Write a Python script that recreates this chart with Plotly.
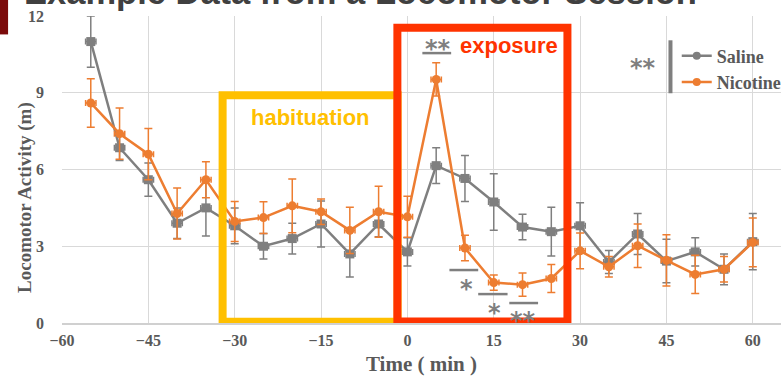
import plotly.graph_objects as go

# ---------------- data ----------------
time_min = [-55, -50, -45, -40, -35, -30, -25, -20, -15, -10, -5, 0,
            5, 10, 15, 20, 25, 30, 35, 40, 45, 50, 55, 60]
saline = [11.0, 6.85, 5.6, 3.9, 4.5, 3.8, 3.0, 3.3, 3.87, 2.7, 3.87, 2.78,
          6.15, 5.65, 4.73, 3.75, 3.57, 3.8, 2.38, 3.48, 2.42, 2.78, 2.1, 3.18]
saline_err = [1.0, 0.5, 0.65, 0.6, 1.1, 0.7, 0.5, 0.6, 0.9, 0.9, 0.5, 0.55,
              0.7, 0.9, 1.1, 0.5, 0.95, 0.9, 0.45, 0.8, 0.85, 0.55, 0.6, 1.1]
nicotine = [8.6, 7.4, 6.6, 4.28, 5.6, 3.97, 4.12, 4.58, 4.35, 3.62, 4.35, 4.15,
            9.52, 2.93, 1.58, 1.5, 1.74, 2.82, 2.2, 3.02, 2.45, 1.9, 2.1, 3.15]
nicotine_err = [0.95, 1.0, 1.0, 1.0, 0.7, 0.78, 0.62, 1.05, 0.5, 0.9, 1.0, 0.8,
                0.65, 0.5, 0.3, 0.45, 0.55, 0.7, 0.4, 0.85, 1.0, 0.75, 0.5, 0.95]
x_ticks = [-60, -45, -30, -15, 0, 15, 30, 45, 60]
y_ticks = [0, 3, 6, 9, 12]

GRAY = "#7F7F7F"
ORANGE = "#ED7D31"
YELLOW = "#FFC000"
RED = "#FF3300"
TXT = "#595959"
SERIF = "Liberation Serif"
STAR_FONT = dict(family="DejaVu Sans", size=24, color=GRAY, weight="bold")

fig = go.Figure()

def add_series(y, err, color, symbol, name):
    fig.add_trace(go.Scatter(
        x=time_min, y=y, mode="lines+markers", name=name, showlegend=False,
        line=dict(color=color, width=2.5),
        marker=dict(color=color, size=9, symbol=symbol),
        error_y=dict(type="data", array=err, visible=True, color=color,
                     thickness=1.5, width=4),
        error_x=dict(type="constant", value=0.9, visible=True, color=color,
                     thickness=1.5, width=3),
    ))
    # legend-only entry (circle marker as in the original legend)
    fig.add_trace(go.Scatter(
        x=[None], y=[None], mode="lines+markers", name=name,
        line=dict(color=color, width=2.5),
        marker=dict(color=color, size=8, symbol="circle"),
    ))

add_series(saline, saline_err, GRAY, "square", "Saline")
add_series(nicotine, nicotine_err, ORANGE, "circle", "Nicotine")

# ---------------- boxes ----------------
shapes = [
    dict(type="rect", xref="x", yref="y", x0=-32.1, x1=-1.7, y0=0.05, y1=8.9,
         line=dict(color=YELLOW, width=8), layer="above"),
    dict(type="rect", xref="x", yref="y", x0=-1.74, x1=27.8, y0=0.06, y1=11.54,
         line=dict(color=RED, width=8), layer="above"),
    # significance bars
    dict(type="line", xref="x", yref="y", x0=2.6, x1=7.6, y0=10.55, y1=10.55,
         line=dict(color=GRAY, width=2.5)),
    dict(type="line", xref="x", yref="y", x0=7.3, x1=12.3, y0=2.07, y1=2.07,
         line=dict(color=GRAY, width=2.5)),
    dict(type="line", xref="x", yref="y", x0=12.3, x1=17.4, y0=1.13, y1=1.13,
         line=dict(color=GRAY, width=2.5)),
    dict(type="line", xref="x", yref="y", x0=17.7, x1=22.7, y0=0.78, y1=0.78,
         line=dict(color=GRAY, width=2.5)),
    dict(type="line", xref="x", yref="y", x0=45.7, x1=45.7, y0=8.98, y1=11.05,
         line=dict(color=GRAY, width=4)),
    # dark red corner tab
    dict(type="rect", xref="paper", yref="paper", x0=-0.09, x1=-0.075,
         y0=0.94, y1=1.06, fillcolor="#7B0A0A", line=dict(width=0)),
]

annotations = [
    dict(text="habituation", x=-16.8, y=8.05, xref="x", yref="y", showarrow=False,
         font=dict(family="Liberation Sans", size=22, color=YELLOW, weight="bold")),
    dict(text="exposure", x=17.6, y=10.85, xref="x", yref="y", showarrow=False,
         font=dict(family="Liberation Sans", size=22, color=RED, weight="bold")),
    dict(text="**", x=5.3, y=10.70, xref="x", yref="y", showarrow=False, font=STAR_FONT),
    dict(text="*", x=10.2, y=1.33, xref="x", yref="y", showarrow=False, font=STAR_FONT),
    dict(text="*", x=15.1, y=0.39, xref="x", yref="y", showarrow=False, font=STAR_FONT),
    dict(text="**", x=20.1, y=0.08, xref="x", yref="y", showarrow=False, font=STAR_FONT),
    dict(text="**", x=41.0, y=9.96, xref="x", yref="y", showarrow=False, font=STAR_FONT),
    dict(text="Example Data from a Locomotor Session", xref="paper", yref="paper",
         x=-0.056, y=1.01, xanchor="left", yanchor="bottom", showarrow=False,
         font=dict(family="Liberation Sans", size=34.5, color="#404040", weight="bold")),
    dict(text="Locomotor Activity (m)", xref="paper", yref="paper",
         x=-0.0508, y=0.409, xanchor="center", yanchor="middle", textangle=-90,
         showarrow=False,
         font=dict(family=SERIF, size=19, color=TXT, weight="bold")),
]

fig.update_layout(
    width=781, height=377,
    margin=dict(l=62, r=0, t=16, b=54, autoexpand=False),
    paper_bgcolor="white", plot_bgcolor="white",
    shapes=shapes, annotations=annotations,
    showlegend=True,
    legend=dict(x=0.855, y=0.93, xanchor="left", yanchor="top",
                bgcolor="rgba(0,0,0,0)", borderwidth=0, tracegroupgap=0,
                itemwidth=30,
                font=dict(family=SERIF, size=18, color=TXT, weight="bold")),
    xaxis=dict(range=[-60, 64.9], tickvals=x_ticks, showgrid=True,
               gridcolor="#D9D9D9", gridwidth=1, zeroline=False,
               showline=True, linecolor="#D0D0D0", linewidth=2,
               ticks="", ticklabelstandoff=2, automargin=False,
               tickfont=dict(family=SERIF, size=16, color=TXT, weight="bold"),
               title=dict(text="Time ( min )", standoff=8,
                          font=dict(family=SERIF, size=21, color=TXT, weight="bold"))),
    yaxis=dict(range=[0, 12], tickvals=y_ticks, showgrid=True,
               gridcolor="#D9D9D9", gridwidth=1, zeroline=False,
               ticks="", ticklabelstandoff=17, automargin=False,
               tickfont=dict(family=SERIF, size=16, color=TXT, weight="bold")),
)

fig.write_html("out.html")
